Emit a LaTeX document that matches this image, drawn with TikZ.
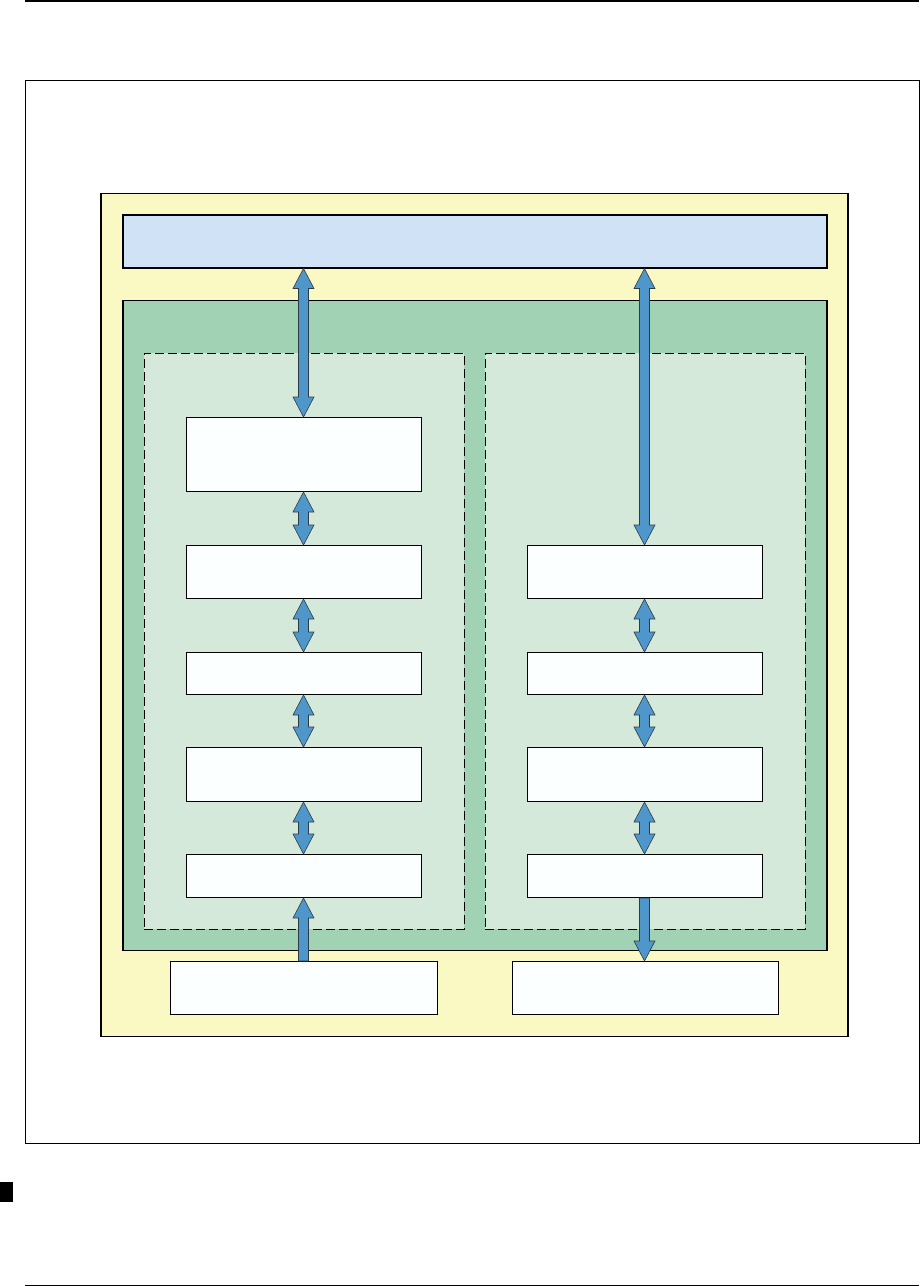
\documentclass[tikz,border=0pt]{standalone}
\usetikzlibrary{calc}
\definecolor{paleyellow}{HTML}{FAF9C4}
\definecolor{paleblue}{HTML}{CFE2F6}
\definecolor{midgreen}{HTML}{A2D2B4}
\definecolor{lightgreen}{HTML}{D5E9DA}
\definecolor{boxwhite}{HTML}{FBFFFF}
\definecolor{arrowblue}{HTML}{4F97CB}
\definecolor{arrowedge}{HTML}{2E3A44}
\tikzset{
  region/.style={draw=black, line width=1.5pt, inner sep=0pt, anchor=north west},
  group/.style={draw=black, dash pattern=on 9pt off 4pt, line width=0.9pt, fill=lightgreen, inner sep=0pt, anchor=north west},
  unitbox/.style={draw=black, line width=1pt, fill=boxwhite, inner sep=0pt, anchor=north west},
  arr/.style={fill=arrowblue, draw=arrowedge, line width=0.6pt, line join=miter},
}
% double-headed block arrow between the bottom of #1 and the top of #2
\newcommand\dblarrow[2]{\path[arr] let \p1=(#1), \p2=(#2) in
  (\x1,\y1) -- ++(10.5pt,-20pt) -- ++(-5.5pt,0pt) -- (\x1+5pt,\y2+20pt) -- ++(5.5pt,0pt)
  -- (\x1,\y2) -- ++(-10.5pt,20pt) -- ++(5.5pt,0pt) -- (\x1-5pt,\y1-20pt) -- ++(-5.5pt,0pt) -- cycle;}
% single-headed block arrow from #1 (tail) to #2 (tip), vertical
\newcommand\onearrow[2]{\path[arr] let \p1=(#1), \p2=(#2), \n1={(\y2>\y1)?1:-1} in
  (\x1-5pt,\y1) -- (\x1-5pt,\y2-\n1*20pt) -- ++(-5.5pt,0pt) -- (\x1,\y2)
  -- (\x1+10.5pt,\y2-\n1*20pt) -- ++(-5.5pt,0pt) -- (\x1+5pt,\y1) -- cycle;}
\begin{document}
\begin{tikzpicture}[x=1pt,y=-1pt]
\useasboundingbox (0,0) rectangle (921,1286);
% page rules and frame
\draw[line width=1.5pt] (25,0.75) coordinate (tl) -- (919,0.75) coordinate (tr);
\draw[line width=1.5pt] (25,1285.25) coordinate (bl) -- (919,1285.25) coordinate (br);
\fill[black] (0,1182) rectangle (13,1202);
\node[draw=black, line width=1pt, inner sep=0pt, anchor=north west, minimum width=894pt, minimum height=1063pt] (frame) at (25,79.5) {};
% regions
\node[region, fill=paleyellow, minimum width=747pt, minimum height=843pt] (outer) at (100,192.5) {};
\node[region, fill=paleblue, minimum width=704pt, minimum height=53pt] (top) at (122,214) {};
\node[region, fill=midgreen, minimum width=704pt, minimum height=650pt] (core) at (122,299.5) {};
\node[group, minimum width=320pt, minimum height=576pt] (leftgrp) at (143.5,353) {};
\node[group, minimum width=320pt, minimum height=576pt] (rightgrp) at (484.5,353) {};
% left column boxes
\node[unitbox, minimum width=235pt, minimum height=74pt] (L1) at (185.5,417) {};
\node[unitbox, minimum width=235pt, minimum height=53pt] (L2) at (185.5,545) {};
\node[unitbox, minimum width=235pt, minimum height=42pt] (L3) at (185.5,652) {};
\node[unitbox, minimum width=235pt, minimum height=54pt] (L4) at (185.5,747) {};
\node[unitbox, minimum width=235pt, minimum height=43pt] (L5) at (185.5,854) {};
% right column boxes
\node[unitbox, minimum width=235pt, minimum height=53pt] (R1) at (526.5,545) {};
\node[unitbox, minimum width=235pt, minimum height=42pt] (R2) at (526.5,652) {};
\node[unitbox, minimum width=235pt, minimum height=54pt] (R3) at (526.5,747) {};
\node[unitbox, minimum width=235pt, minimum height=43pt] (R4) at (526.5,854) {};
% bottom boxes
\node[unitbox, minimum width=267pt, minimum height=53pt] (BL) at (169.5,961) {};
\node[unitbox, minimum width=266pt, minimum height=53pt] (BR) at (511.5,961) {};
% arrows
\dblarrow{L1.north |- top.south}{L1.north}
\dblarrow{R1.north |- top.south}{R1.north}
\dblarrow{L1.south}{L2.north}
\dblarrow{L2.south}{L3.north}
\dblarrow{L3.south}{L4.north}
\dblarrow{L4.south}{L5.north}
\dblarrow{R1.south}{R2.north}
\dblarrow{R2.south}{R3.north}
\dblarrow{R3.south}{R4.north}
\onearrow{BL.north}{L5.south}
\onearrow{R4.south}{BR.north}
\end{tikzpicture}
\end{document}
